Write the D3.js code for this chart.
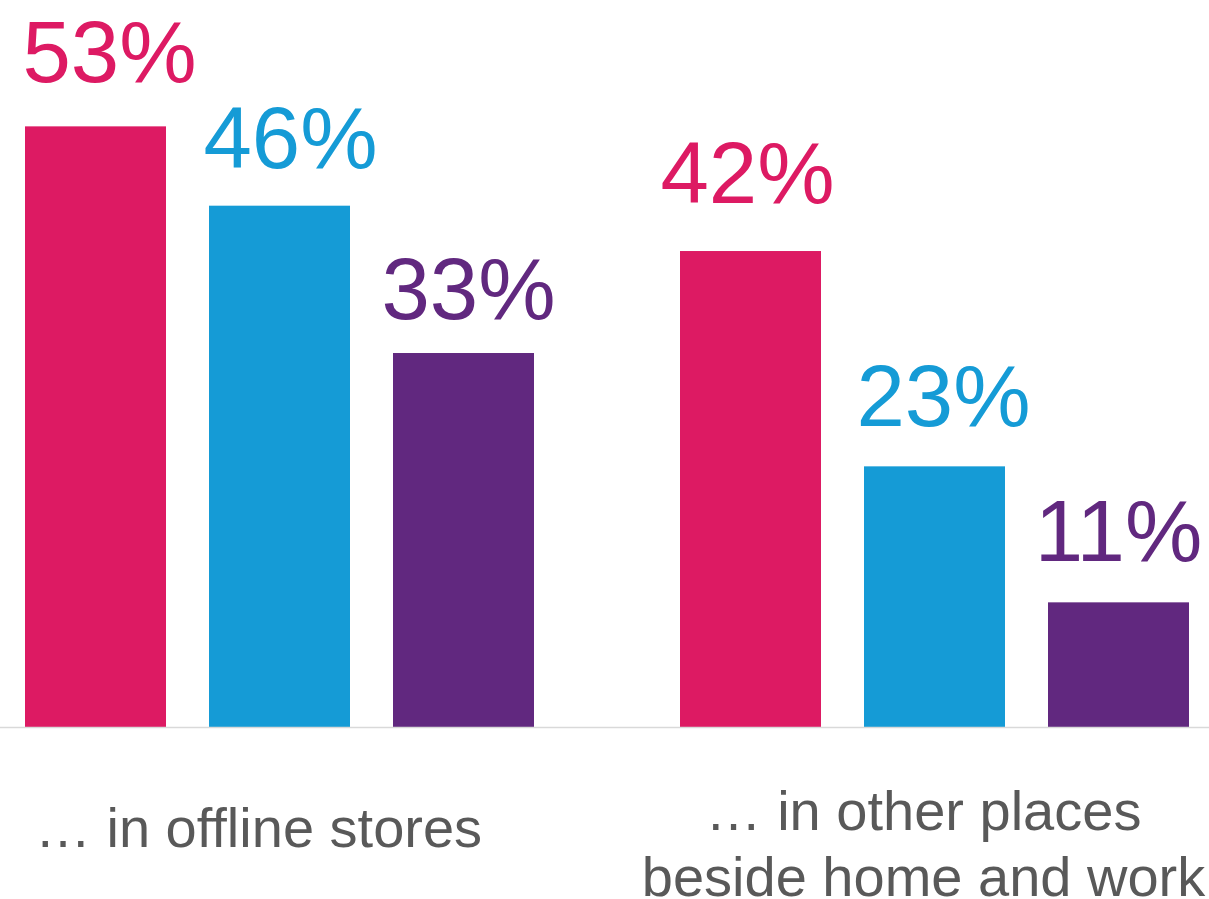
<!DOCTYPE html>
<html>
<head>
<meta charset="utf-8">
<script src="https://cdn.jsdelivr.net/npm/d3@7"></script>
<style>
  html, body { margin: 0; padding: 0; background: #ffffff; }
  svg { display: block; }
  text { font-family: "Liberation Sans", Arial, sans-serif; }
</style>
</head>
<body>
<svg id="chart" width="1209" height="899"></svg>
<script>
// Categories (lines of each label) and the three series per category
const categories = ["offline", "other"];
const categoryLines = [
  ["\u2026 in offline stores"],
  ["\u2026 in other places", "beside home and work"]
];
const seriesKeys = ["s1", "s2", "s3"];
const seriesColors = ["#DD1A63", "#159BD6", "#61287F"];
const valuesOffline = [53, 46, 33];
const valuesOther = [42, 23, 11];
const valueSets = [valuesOffline, valuesOther];

// Small label nudges (x, y) per bar, in reading order
const labelDx = [[14, 11, 5], [-3, 9, 0]];
const labelDy = [[-44, -38, -34], [-48, -40, -41]];
const categoryDx = [-21, -11];

const W = 1209, H = 899;
const baseline = 727;
const svg = d3.select("#chart");

const x0 = d3.scaleBand()
  .domain(categories)
  .range([25, 1189])
  .paddingInner(146 / 655)
  .paddingOuter(0);

const x1 = d3.scaleBand()
  .domain(seriesKeys)
  .range([0, x0.bandwidth()])
  .paddingInner(43 / 184)
  .paddingOuter(0);

const y = d3.scaleLinear()
  .domain([0, 64.15])
  .range([baseline, 0]);

const color = d3.scaleOrdinal().domain(seriesKeys).range(seriesColors);

const rows = [];
categories.forEach((c, ci) => {
  seriesKeys.forEach((k, si) => {
    rows.push({ cat: c, ci, key: k, si, value: valueSets[ci][si] });
  });
});

// Bars
svg.append("g").selectAll("rect")
  .data(rows)
  .join("rect")
  .attr("x", d => x0(d.cat) + x1(d.key))
  .attr("y", d => y(d.value))
  .attr("width", x1.bandwidth())
  .attr("height", d => y(0) - y(d.value))
  .attr("fill", d => color(d.key));

// Baseline rule
svg.append("line")
  .attr("x1", 0).attr("x2", W)
  .attr("y1", y(0) + 0.5).attr("y2", y(0) + 0.5)
  .attr("stroke", "#d9d9d9")
  .attr("stroke-width", 1.5);

// Value labels above bars
svg.append("g").selectAll("text")
  .data(rows)
  .join("text")
  .attr("x", d => x0(d.cat) + x1(d.key) + x1.bandwidth() / 2 + labelDx[d.ci][d.si])
  .attr("y", d => y(d.value) + labelDy[d.ci][d.si])
  .attr("text-anchor", "middle")
  .attr("font-size", 87)
  .attr("fill", d => color(d.key))
  .text(d => d.value + "%");

// Category labels below the baseline
const catG = svg.append("g");
categories.forEach((c, ci) => {
  const lines = categoryLines[ci];
  const t = catG.append("text")
    .attr("text-anchor", "middle")
    .attr("font-size", 56)
    .attr("fill", "#595959");
  lines.forEach((ln, li) => {
    t.append("tspan")
      .attr("x", x0(c) + x0.bandwidth() / 2 + categoryDx[ci])
      .attr("y", 847 - (lines.length - 1) * 17 + li * 66)
      .text(ln);
  });
});
</script>
</body>
</html>
